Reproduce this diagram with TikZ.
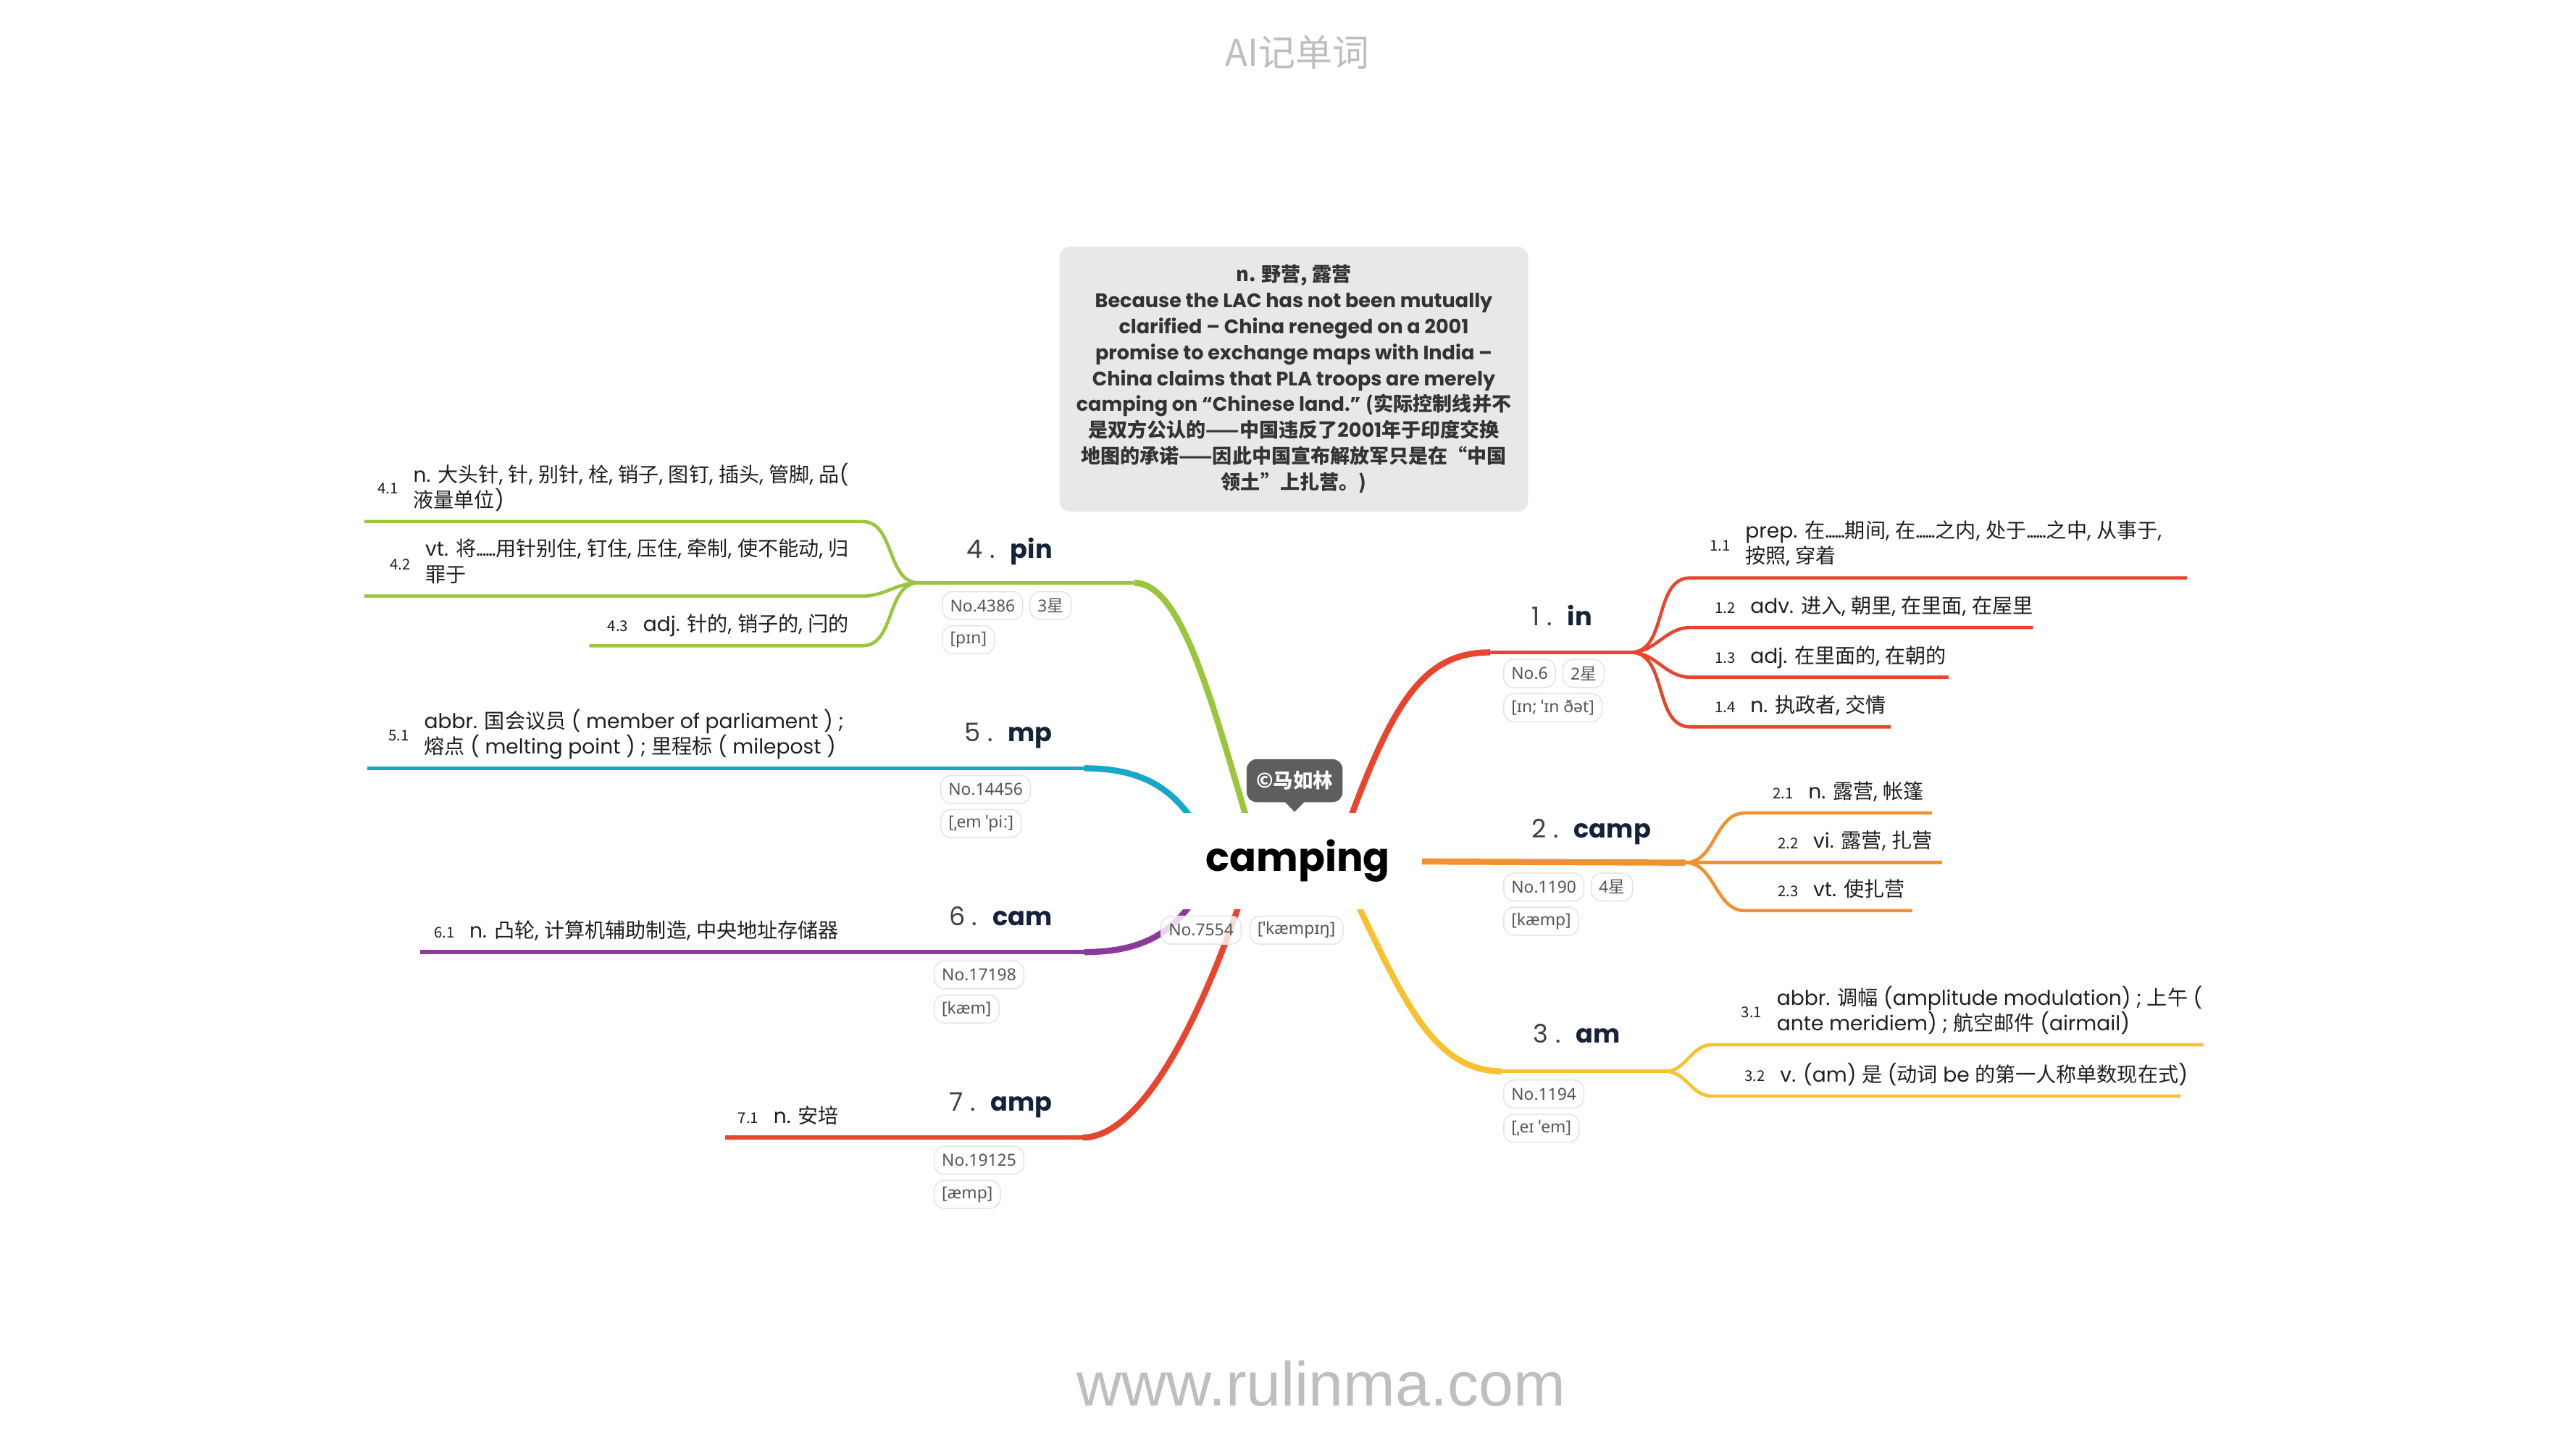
\documentclass[tikz,border=0pt]{standalone}
\usepackage{fontspec}
\setmainfont{Noto Sans CJK SC}
\newfontfamily\headfont{Poppins}
\newfontfamily\tagfont{Noto Sans}
\newfontfamily\zhfont{Noto Sans CJK SC}
\newfontfamily\webfont{Liberation Sans}
\usetikzlibrary{backgrounds}
\usetikzlibrary{positioning}
\definecolor{redb}{HTML}{E8452F}
\definecolor{orangeb}{HTML}{F0922F}
\definecolor{yellowb}{HTML}{F6C232}
\definecolor{greenb}{HTML}{9BC53D}
\definecolor{blueb}{HTML}{18A6C9}
\definecolor{purpleb}{HTML}{8B3A9C}
\definecolor{boxgray}{HTML}{E8E8E8}
\definecolor{darktext}{HTML}{333333}
\definecolor{headblue}{HTML}{16223A}
\definecolor{tagline}{HTML}{E3E3E3}
\definecolor{tagtext}{HTML}{555555}
\definecolor{bubblegray}{HTML}{5E5E5E}
\definecolor{wmark}{HTML}{BEBEBE}
% Chinese characters switch to the CJK font by themselves
\XeTeXinterchartokenstate=1
\newXeTeXintercharclass\cjkclass
\newcount\cjkc
\cjkc="4E00
\loop \XeTeXcharclass\cjkc=\cjkclass \ifnum\cjkc<"9FFF \advance\cjkc by 1 \repeat
\cjkc="3000
\loop \XeTeXcharclass\cjkc=\cjkclass \ifnum\cjkc<"303F \advance\cjkc by 1 \repeat
\XeTeXinterchartoks 0 \cjkclass = {\begingroup\zhfont}
\XeTeXinterchartoks 4095 \cjkclass = {\begingroup\zhfont}
\XeTeXinterchartoks \cjkclass 0 = {\endgroup}
\XeTeXinterchartoks \cjkclass 4095 = {\endgroup}
\newcommand{\hd}[2]{{\mdseries\color{black!75}#1 .}\hspace{0.6em}{\bfseries #2}}
\newcommand{\sixdots}{.\kern-0.45pt.\kern-0.45pt.\kern-0.45pt.\kern-0.45pt.\kern-0.45pt.}

\begin{document}
\begin{tikzpicture}[
            x = 0.022853cm, y = -0.022853cm, % one unit per screen pixel, y downwards
            line cap = round,
            trunk/.style = {line width = 2.4pt},
            stem/.style = {line width = 1.6pt},
            twig/.style = {line width = 1.3pt},
            sense/.style = {inner sep = 0pt, align = left, text = black!88, font = \headfont\fontsize{8}{10}\selectfont},
            num/.style = {inner sep = 0pt, text = black!88, font = \zhfont\fontsize{5.8}{6}\selectfont},
            head/.style = {inner sep = 0pt, text = headblue, font = \headfont\fontsize{10}{12}\selectfont},
            tag/.style = {anchor = north west, draw = tagline, fill = white, fill opacity = 0.8, text opacity = 1,
                rounded corners = 4pt, inner xsep = 3pt, inner ysep = 0pt, minimum height = 11pt,
                text = tagtext, font = \tagfont\fontsize{6.5}{7}\selectfont}
        ]

        \useasboundingbox (5,0) rectangle (1561,875);

        % header and footer
        \node[font = \zhfont\fontsize{14.5}{16}\selectfont, text = wmark] (TT) at (788.5,31.5) {AI记单词};
        \node[anchor = base, font = \webfont\fontsize{24.5}{26}\selectfont, text = wmark] (WW) at (803,849) {www.rulinma.com};

        % example sentence
        \node[fill = boxgray, rounded corners = 4pt, minimum width = 184pt, minimum height = 104pt, align = center,
            text = darktext, font = \headfont\bfseries\fontsize{7.7}{10.2}\selectfont] (EX) at (786.5,229)
            {{\zhfont n. 野营, 露营}\\
             Because the LAC has not been mutually\\
             clarified – China reneged on a 2001\\
             promise to exchange maps with India –\\
             China claims that PLA troops are merely\\
             camping on “Chinese land.” {\zhfont (实际控制线并不}\\
             {\zhfont 是双方公认的——中国违反了}2001{\zhfont 年于印度交换}\\
             {\zhfont 地图的承诺——因此中国宣布解放军只是在“中国}\\
             {\zhfont 领土”上扎营。)}};

        % centre word
        \node[fill = white, inner sep = 0pt, minimum width = 97.5pt, minimum height = 37.7pt,
            font = \headfont\bfseries\fontsize{15.5}{18}\selectfont] (C) at (789,520) {camping};
        \node[fill = bubblegray, rounded corners = 4pt, inner sep = 2pt, minimum width = 37.7pt, minimum height = 16.9pt,
            text = white, font = \zhfont\bfseries\fontsize{7.8}{9}\selectfont] (CR) at (787,471.5) {©马如林};
        \fill[bubblegray] ([xshift = -4pt, yshift = 0.5pt]CR.south) -- ([xshift = 4pt, yshift = 0.5pt]CR.south)
            -- ([yshift = -3.6pt]CR.south) -- cycle;
        \node[tag] (T0a) at (706,553) {No.7554};
        \node[tag, right = 3pt of T0a] (T0b) {[ˈkæmpɪŋ]};

        % branch points
        \coordinate (O1) at (812,518);
        \coordinate (B1a) at (905,394);
        \coordinate (B1s) at (990,394);
        \coordinate (B2s) at (1023,521);
        \coordinate (O3) at (812,520);
        \coordinate (B3a) at (912,647);
        \coordinate (B3s) at (1011,647);
        \coordinate (O4) at (765,518);
        \coordinate (B4a) at (690,352);
        \coordinate (B4s) at (560,352);
        \coordinate (O5) at (738,520);
        \coordinate (B5a) at (660,464);
        \coordinate (O6) at (738,520);
        \coordinate (B6a) at (660,575);
        \coordinate (O7) at (762,520);
        \coordinate (B7a) at (659,687);

        % sense lines
        \coordinate (L11) at (1026,349);  \coordinate (E11) at (1326,349);
        \coordinate (L12) at (1026,379);  \coordinate (E12) at (1233,379);
        \coordinate (L13) at (1026,409);  \coordinate (E13) at (1182,409);
        \coordinate (L14) at (1026,439);  \coordinate (E14) at (1147,439);
        \coordinate (L21) at (1059,491);  \coordinate (E21) at (1172,491);
        \coordinate (L22) at (1059,521);  \coordinate (E22) at (1178,521);
        \coordinate (L23) at (1059,550);  \coordinate (E23) at (1160,550);
        \coordinate (L31) at (1039,631);  \coordinate (E31) at (1336,631);
        \coordinate (L32) at (1039,662);  \coordinate (E32) at (1322,662);
        \coordinate (L41) at (526,315);   \coordinate (E41) at (225,315);
        \coordinate (L42) at (526,360);   \coordinate (E42) at (225,360);
        \coordinate (L43) at (526,390);   \coordinate (E43) at (361,390);
        \coordinate (E51) at (227,464);
        \coordinate (E61) at (259,575);
        \coordinate (E71) at (443,687);

        % word heads
        \node[head, anchor = base west] (H1) at (930,378) {\hd{1}{in}};
        \node[head, anchor = base west] (H2) at (930,506) {\hd{2}{camp}};
        \node[head, anchor = base west] (H3) at (931,630) {\hd{3}{am}};
        \node[head, anchor = base east] (H4) at (641,337) {\hd{4}{pin}};
        \node[head, anchor = base east] (H5) at (641,448) {\hd{5}{mp}};
        \node[head, anchor = base east] (H6) at (641,559) {\hd{6}{cam}};
        \node[head, anchor = base east] (H7) at (641,671) {\hd{7}{amp}};

        % tags
        \node[tag] (T1a) at (913,398) {No.6};
        \node[tag, right = 2.5pt of T1a] (T1b) {2星};
        \node[tag, below = 2pt of T1a.south west, anchor = north west] (T1c) {[ɪn; ˈɪn ðət]};
        \node[tag] (T2a) at (913,527) {No.1190};
        \node[tag, right = 2.5pt of T2a] (T2b) {4星};
        \node[tag, below = 2pt of T2a.south west, anchor = north west] (T2c) {[kæmp]};
        \node[tag] (T3a) at (913,652) {No.1194};
        \node[tag, below = 2pt of T3a.south west, anchor = north west] (T3c) {[ˌeɪ ˈem]};
        \node[tag] (T4a) at (574,357) {No.4386};
        \node[tag, right = 2.5pt of T4a] (T4b) {3星};
        \node[tag, below = 2pt of T4a.south west, anchor = north west] (T4c) {[pɪn]};
        \node[tag] (T5a) at (573,468) {No.14456};
        \node[tag, below = 2pt of T5a.south west, anchor = north west] (T5c) {[ˌem ˈpiː]};
        \node[tag] (T6a) at (569,580) {No.17198};
        \node[tag, below = 2pt of T6a.south west, anchor = north west] (T6c) {[kæm]};
        \node[tag] (T7a) at (569,692) {No.19125};
        \node[tag, below = 2pt of T7a.south west, anchor = north west] (T7c) {[æmp]};

        % senses, right side
        \node[sense, anchor = south west] (S11) at (1059,345.3) {prep. 在\sixdots 期间, 在\sixdots 之内, 处于\sixdots 之中, 从事于,\\按照, 穿着\strut};
        \node[sense, anchor = south west] (S12) at (1062,375.3) {adv. 进入, 朝里, 在里面, 在屋里\strut};
        \node[sense, anchor = south west] (S13) at (1062,405.3) {adj. 在里面的, 在朝的\strut};
        \node[sense, anchor = south west] (S14) at (1062,435.3) {n. 执政者, 交情\strut};
        \node[sense, anchor = south west] (S21) at (1097,487.3) {n. 露营, 帐篷\strut};
        \node[sense, anchor = south west] (S22) at (1100,517.3) {vi. 露营, 扎营\strut};
        \node[sense, anchor = south west] (S23) at (1100,546.3) {vt. 使扎营\strut};
        \node[sense, anchor = south west] (S31) at (1078,627.3) {abbr. 调幅 (amplitude modulation) ; 上午 (\\ante meridiem) ; 航空邮件 (airmail)\strut};
        \node[sense, anchor = south west] (S32) at (1080,658.3) {v. (am) 是 (动词 be 的第一人称单数现在式)\strut};

        % senses, left side
        \node[sense, anchor = south east] (S41) at (518,311.3) {n. 大头针, 针, 别针, 栓, 销子, 图钉, 插头, 管脚, 品(\\液量单位)\strut};
        \node[sense, anchor = south east] (S42) at (518,356.3) {vt. 将\sixdots 用针别住, 钉住, 压住, 牵制, 使不能动, 归\\罪于\strut};
        \node[sense, anchor = south east] (S43) at (518,386.3) {adj. 针的, 销子的, 闩的\strut};
        \node[sense, anchor = south east] (S51) at (515,460.3) {abbr. 国会议员 ( member of parliament ) ;\\熔点 ( melting point ) ; 里程标 ( milepost )\strut};
        \node[sense, anchor = south east] (S61) at (512,571.3) {n. 凸轮, 计算机辅助制造, 中央地址存储器\strut};
        \node[sense, anchor = south east] (S71) at (512,683.3) {n. 安培\strut};

        % sense numbers
        \node[num, left = 5.5pt of S11] {1.1};
        \node[num, left = 5.5pt of S12] {1.2};
        \node[num, left = 5.5pt of S13] {1.3};
        \node[num, left = 5.5pt of S14] {1.4};
        \node[num, left = 5.5pt of S21] {2.1};
        \node[num, left = 5.5pt of S22] {2.2};
        \node[num, left = 5.5pt of S23] {2.3};
        \node[num, left = 5.5pt of S31] {3.1};
        \node[num, left = 5.5pt of S32] {3.2};
        \node[num, left = 5.5pt of S41] {4.1};
        \node[num, left = 5.5pt of S42] {4.2};
        \node[num, left = 5.5pt of S43] {4.3};
        \node[num, left = 5.5pt of S51] {5.1};
        \node[num, left = 5.5pt of S61] {6.1};
        \node[num, left = 5.5pt of S71] {7.1};

        \begin{scope}[on background layer]
          \fill[white] (5,0) rectangle (1561,875);
          % branches
          \draw[trunk, redb] (O1) .. controls (844,428) and (862,394) .. (B1a);
          \draw[stem, redb] (B1a) -- (B1s);
          \draw[trunk, orangeb] (C.center) -- (B2s);
          \draw[trunk, yellowb] (O3) .. controls (848,590) and (865,647) .. (B3a);
          \draw[stem, yellowb] (B3a) -- (B3s);
          \draw[trunk, greenb] (O4) .. controls (738,428) and (720,352) .. (B4a);
          \draw[stem, greenb] (B4a) -- (B4s);
          \draw[trunk, blueb] (O5) .. controls (722,480) and (700,464) .. (B5a);
          \draw[stem, blueb] (B5a) -- (E51);
          \draw[trunk, purpleb] (O6) .. controls (722,560) and (700,575) .. (B6a);
          \draw[stem, purpleb] (B6a) -- (E61);
          \draw[trunk, redb] (O7) .. controls (740,592) and (700,687) .. (B7a);
          \draw[stem, redb] (B7a) -- (E71);
          % senses
          \draw[twig, redb] (B1s) to[out = 0, in = 180] (L11) -- (E11);
          \draw[twig, redb] (B1s) to[out = 0, in = 180] (L12) -- (E12);
          \draw[twig, redb] (B1s) to[out = 0, in = 180] (L13) -- (E13);
          \draw[twig, redb] (B1s) to[out = 0, in = 180] (L14) -- (E14);
          \draw[twig, orangeb] (B2s) to[out = 0, in = 180] (L21) -- (E21);
          \draw[twig, orangeb] (B2s) to[out = 0, in = 180] (L22) -- (E22);
          \draw[twig, orangeb] (B2s) to[out = 0, in = 180] (L23) -- (E23);
          \draw[twig, yellowb] (B3s) to[out = 0, in = 180] (L31) -- (E31);
          \draw[twig, yellowb] (B3s) to[out = 0, in = 180] (L32) -- (E32);
          \draw[twig, greenb] (B4s) to[out = 180, in = 0] (L41) -- (E41);
          \draw[twig, greenb] (B4s) to[out = 180, in = 0] (L42) -- (E42);
          \draw[twig, greenb] (B4s) to[out = 180, in = 0] (L43) -- (E43);
        \end{scope}

\end{tikzpicture}
\end{document}
